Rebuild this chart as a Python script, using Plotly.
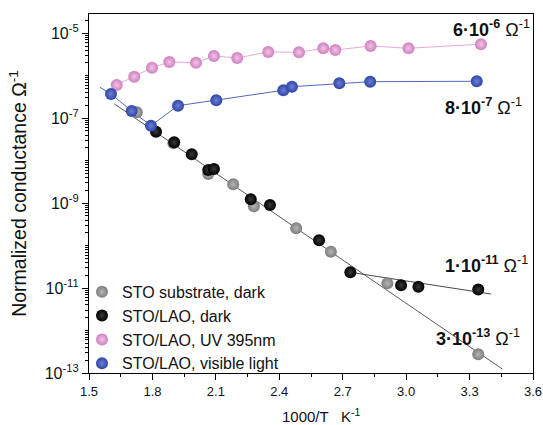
import plotly.graph_objects as go

# ---- data (1000/T in K^-1, normalized conductance in Ohm^-1) ----
sto_x = [1.726, 1.899, 2.064, 2.182, 2.280, 2.480, 2.644, 2.911, 3.341]
sto_y = [1.39e-7, 2.57e-8, 4.85e-9, 2.78e-9, 8.43e-10, 2.57e-10, 7.18e-11, 1.29e-11, 2.75e-13]

dark_x = [1.817, 1.903, 1.986, 2.064, 2.091, 2.265, 2.356, 2.588, 2.736, 2.976, 3.058, 3.341]
dark_y = [4.82e-8, 2.71e-8, 1.41e-8, 6.03e-9, 6.37e-9, 1.24e-9, 9.04e-10, 1.34e-10, 2.35e-11,
          1.16e-11, 1.07e-11, 9.2e-12]

uv_x = [1.631, 1.714, 1.798, 1.880, 2.006, 2.091, 2.201, 2.348, 2.493, 2.608, 2.665, 2.832, 3.011, 3.354]
uv_y = [6.06e-7, 9.5e-7, 1.55e-6, 2.11e-6, 2.03e-6, 2.92e-6, 2.62e-6, 3.63e-6, 3.57e-6, 4.44e-6,
        4.04e-6, 5.02e-6, 4.44e-6, 5.53e-6]

vis_x = [1.604, 1.702, 1.793, 1.921, 2.102, 2.419, 2.460, 2.684, 2.830, 3.334]
vis_y = [3.72e-7, 1.48e-7, 6.67e-8, 1.97e-7, 2.64e-7, 4.55e-7, 5.52e-7, 6.64e-7, 7.24e-7, 7.41e-7]

# guide / fit lines
steep_fit_x = [1.620, 3.455]
steep_fit_y = [2.17e-7, 1.24e-13]
flat_fit_x = [2.736, 3.401]
flat_fit_y = [2.35e-11, 7.24e-12]
vis_lead_x = [1.552]
vis_lead_y = [5.35e-7]

legend_names = ["STO substrate, dark", "STO/LAO, dark", "STO/LAO, UV 395nm", "STO/LAO, visible light"]

labels = ["<b>6·10<sup>-6</sup></b> Ω<sup>-1</sup>", "<b>8·10<sup>-7</sup></b> Ω<sup>-1</sup>",
          "<b>1·10<sup>-11</sup></b> Ω<sup>-1</sup>", "<b>3·10<sup>-13</sup></b> Ω<sup>-1</sup>"]

x_title = "1000/T   K<sup>-1</sup>"
y_title = "Normalized conductance Ω<sup>-1</sup>"

y_tick_exp = [-13, -11, -9, -7, -5]
x_ticks = [1.5, 1.8, 2.1, 2.4, 2.7, 3.0, 3.3, 3.6]

FONT = "Liberation Sans, Arial, sans-serif"

fig = go.Figure()

# lines
fig.add_trace(go.Scatter(x=steep_fit_x, y=steep_fit_y, mode="lines",
                         line=dict(color="#5a5a5a", width=1), showlegend=False, hoverinfo="skip"))
fig.add_trace(go.Scatter(x=flat_fit_x, y=flat_fit_y, mode="lines",
                         line=dict(color="#4a4a4a", width=1), showlegend=False, hoverinfo="skip"))
fig.add_trace(go.Scatter(x=uv_x, y=uv_y, mode="lines",
                         line=dict(color="#e7a9d8", width=1), showlegend=False, hoverinfo="skip"))
fig.add_trace(go.Scatter(x=vis_lead_x + vis_x, y=vis_lead_y + vis_y, mode="lines",
                         line=dict(color="#5566c4", width=1), showlegend=False, hoverinfo="skip"))

def sphere(color, highlight):
    return dict(size=12, color=color, line=dict(width=0),
                gradient=dict(type="radial", color=highlight))

fig.add_trace(go.Scatter(x=sto_x, y=sto_y, mode="markers", name=legend_names[0],
                         marker=sphere("#7d7d7d", "#b5b5b5")))
fig.add_trace(go.Scatter(x=dark_x, y=dark_y, mode="markers", name=legend_names[1],
                         marker=sphere("#000000", "#3a3a3a")))
fig.add_trace(go.Scatter(x=uv_x, y=uv_y, mode="markers", name=legend_names[2],
                         marker=sphere("#cf7fbf", "#f0c4e6")))
fig.add_trace(go.Scatter(x=vis_x, y=vis_y, mode="markers", name=legend_names[3],
                         marker=sphere("#2f45a5", "#6c7fd6")))

# minor y ticks
minor_y = []
for d in range(-13, -4):
    for k in range(1, 10):
        v = k * 10.0 ** d
        if d in y_tick_exp and k == 1:
            continue
        minor_y.append(v)

ann_pos = [(0.907, 0.961), (0.888, 0.741), (0.896, 0.301), (0.876, 0.0975)]
annotations = [dict(x=px, y=py, xref="paper", yref="paper", text=t, showarrow=False,
                    xanchor="center", yanchor="middle",
                    font=dict(family=FONT, size=18, color="#111"))
               for t, (px, py) in zip(labels, ann_pos)]
annotations.append(dict(x=0.5225, y=-0.117, xref="paper", yref="paper", text=x_title,
                        showarrow=False, xanchor="center", yanchor="middle",
                        font=dict(family=FONT, size=15, color="#111")))

fig.update_layout(
    width=543, height=425,
    margin=dict(l=89, r=10, t=14, b=52),
    paper_bgcolor="white", plot_bgcolor="white",
    font=dict(family=FONT, color="#111"),
    annotations=annotations,
    legend=dict(x=0, y=-0.022, xanchor="left", yanchor="bottom", indentation=-7,
                bgcolor="rgba(0,0,0,0)", font=dict(family=FONT, size=16, color="#111"),
                itemwidth=30, tracegroupgap=0),
    xaxis=dict(range=[1.5, 3.6], tickvals=x_ticks, ticktext=[f"{v:.1f}" for v in x_ticks],
               ticks="outside", ticklen=6, tickwidth=1, tickcolor="black",
               minor=dict(ticks="outside", ticklen=3, tickcolor="black",
                          tickvals=[v + 0.15 for v in x_ticks[:-1]]),
               showline=True, linecolor="black", linewidth=1.2, mirror=True,
               showgrid=False, zeroline=False, automargin=False,
               ticklabeloverflow="allow",
               tickfont=dict(size=13)),
    yaxis=dict(type="log", range=[-13, -4.546],
               tickvals=[10.0 ** e for e in y_tick_exp],
               ticktext=[f"10<sup>{e}</sup>" for e in y_tick_exp],
               ticks="outside", ticklen=6, tickwidth=1, tickcolor="black",
               minor=dict(ticks="outside", ticklen=3, tickcolor="black", tickvals=minor_y),
               showline=True, linecolor="black", linewidth=1.2, mirror=True,
               showgrid=False, zeroline=False, automargin=False,
               tickfont=dict(size=16),
               title=dict(text=y_title, font=dict(size=19.5), standoff=12)),
)

fig.write_html("out.html", config={"displayModeBar": False},
               post_script="document.body.style.margin='0';document.body.style.overflow='hidden';")
